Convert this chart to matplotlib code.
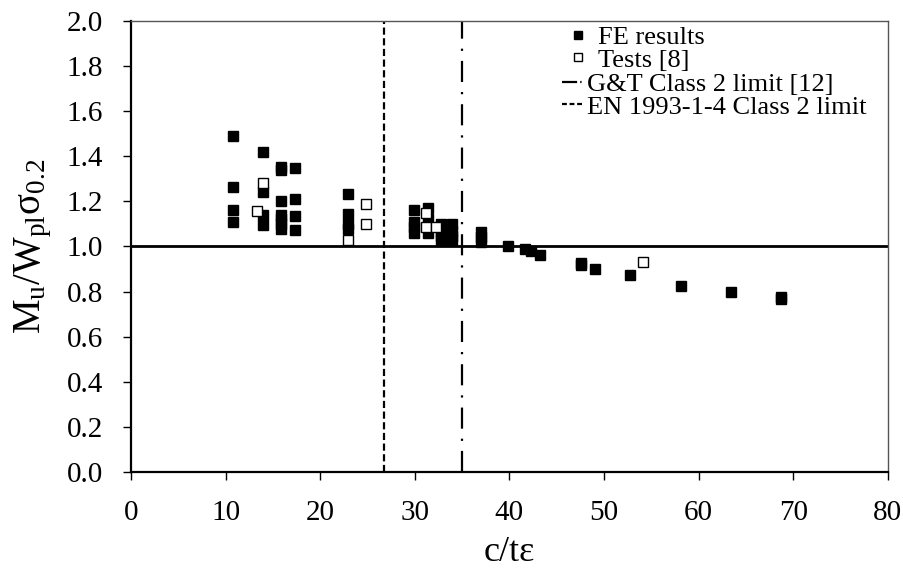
import matplotlib
matplotlib.use('Agg')
import matplotlib.pyplot as plt
from matplotlib.lines import Line2D

plt.rcParams['font.family'] = ['Liberation Serif', 'DejaVu Serif']
plt.rcParams['mathtext.fontset'] = 'custom'
plt.rcParams['mathtext.rm'] = 'Liberation Serif'
plt.rcParams['mathtext.default'] = 'regular'

# FE results (filled squares)
fe_x = [10.8, 10.8, 10.8, 10.8,
        14.0, 14.0, 14.0, 14.0,
        15.9, 15.9, 15.9, 15.9, 15.9, 15.9, 15.9,
        17.3, 17.3, 17.3, 17.3,
        22.9, 22.9, 22.9, 22.9,
        29.9, 29.9, 29.9, 29.9,
        31.4, 31.4, 31.4,
        32.8, 32.8, 32.8, 32.8,
        33.9, 33.9, 33.9, 33.9,
        37.0, 37.0, 37.0,
        39.8, 41.6, 42.3, 43.2, 47.6, 47.6, 49.0, 52.8, 58.1, 63.4, 68.7, 68.7]
fe_y = [1.49, 1.265, 1.16, 1.106,
        1.42, 1.243, 1.14, 1.093,
        1.352, 1.338, 1.20, 1.14, 1.12, 1.10, 1.075,
        1.345, 1.208, 1.133, 1.071,
        1.234, 1.142, 1.10, 1.075,
        1.159, 1.11, 1.085, 1.06,
        1.172, 1.12, 1.06,
        1.10, 1.07, 1.045, 1.03,
        1.10, 1.07, 1.045, 1.03,
        1.065, 1.04, 1.02,
        1.00, 0.99, 0.978, 0.963, 0.926, 0.916, 0.90, 0.872, 0.826, 0.80, 0.775, 0.766]

# Tests [8] (open squares)
test_x = [13.3, 14.0, 22.9, 24.8, 24.8, 31.2, 31.2, 32.2, 54.1]
test_y = [1.155, 1.279, 1.03, 1.186, 1.10, 1.15, 1.088, 1.088, 0.932]

gt_limit = 35.0
en_limit = 26.7

fig = plt.figure(figsize=(9.04, 5.71), dpi=100)
ax = fig.add_axes([0.145, 0.173, 0.837, 0.791])

fe, = ax.plot(fe_x, fe_y, 's', color='black', markersize=7.5, label='FE results', zorder=3)
te, = ax.plot(test_x, test_y, 's', markerfacecolor='white', markeredgecolor='black',
              markeredgewidth=1.0, markersize=7, label='Tests [8]', zorder=4)
ax.axvline(gt_limit, color='black', lw=1.6, dashes=(9.5, 4.5, 1, 4.5))
ax.axvline(en_limit, color='black', lw=1.6, dashes=(3.2, 1.6))
ax.axhline(1.0, color='black', lw=2, zorder=2)

# shorter dash patterns for the small legend handles
gt_h = Line2D([], [], color='black', lw=1.6, dashes=(6.8, 1.4, 0.6, 1.4),
              label='G&T Class 2 limit [12]')
en_h = Line2D([], [], color='black', lw=1.6, dashes=(2.2, 1.2),
              label='EN 1993-1-4 Class 2 limit')

ax.set_xlim(0, 80)
ax.set_ylim(0, 2.0)
ax.set_xticks(range(0, 81, 10))
ax.set_yticks([i * 0.2 for i in range(11)])
ax.set_yticklabels(['%.1f' % (i * 0.2) for i in range(11)])
ax.tick_params(labelsize=21, direction='out', length=6, width=1, color='black')
ax.tick_params(axis='y', pad=14)
ax.tick_params(axis='x', pad=14)

ax.spines['left'].set_linewidth(1.6)
ax.spines['bottom'].set_linewidth(1.6)
ax.spines['top'].set_color('#555555')
ax.spines['right'].set_color('#555555')
ax.spines['top'].set_linewidth(1)
ax.spines['right'].set_linewidth(1)

ax.set_xlabel('c/tε', fontsize=26, labelpad=7)
ax.set_ylabel('M$_{u}$/W$_{pl}$σ$_{0.2}$', fontsize=28, labelpad=9)

# Excel-style centred legend: marker rows and line rows placed separately
leg1 = ax.legend(handles=[fe, te], loc='upper left',
                 bbox_to_anchor=(568 / 904, 1 - 26 / 571), bbox_transform=fig.transFigure,
                 frameon=False, borderpad=0, borderaxespad=0, fontsize=19,
                 labelspacing=-0.05, handlelength=0.76, handletextpad=0.38,
                 markerscale=0.8)
ax.add_artist(leg1)
ax.legend(handles=[gt_h, en_h], loc='upper left',
          bbox_to_anchor=(562 / 904, 1 - 73 / 571), bbox_transform=fig.transFigure,
          frameon=False, borderpad=0, borderaxespad=0, fontsize=19,
          labelspacing=-0.05, handlelength=0.76, handletextpad=0.2)

fig.savefig('out.png', dpi=100)
